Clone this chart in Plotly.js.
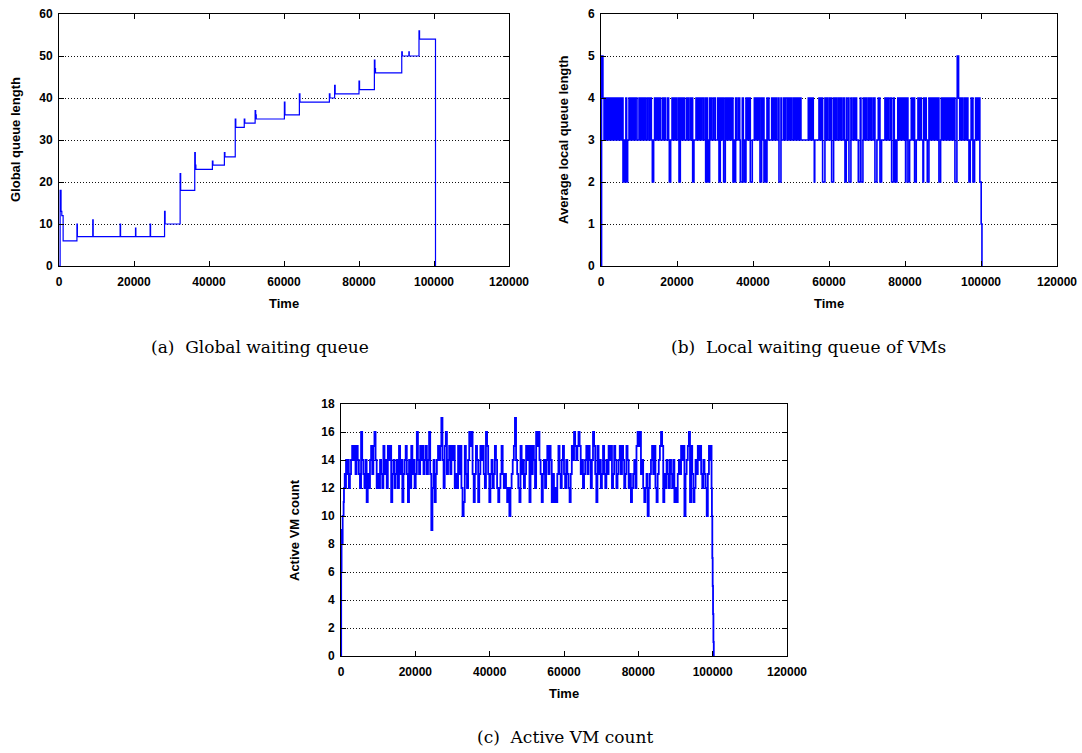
<!DOCTYPE html>
<html>
<head>
<meta charset="utf-8">
<script src="https://cdn.plot.ly/plotly-3.0.1.min.js"></script>
<style>
  html, body { margin: 0; padding: 0; background: #fff; }
  #chart { width: 1082px; height: 753px; }
</style>
</head>
<body>
<div id="chart"></div>
<script>
// (a) Global waiting queue length: step changes over simulated time
const globalT = [0, 300, 550, 750, 1100, 4780, 4900, 9000, 9120, 16300,
                 16420, 20400, 20500, 24300, 24420, 28150, 28300, 32300, 32450, 36200,
                 36350, 36500, 40900, 41050, 44100, 44250, 47000, 47150, 49400, 49550,
                 52300, 52450, 52600, 60100, 60250, 64100, 64250, 72100, 72250, 73500,
                 73650, 80000, 80150, 84100, 84250, 84400, 91400, 91550, 93300, 93400,
                 96000, 96150, 100400];
const globalQ = [0, 18, 13, 12, 6, 10, 7, 11, 7, 10,
                 7, 9, 7, 10, 7, 13, 10, 22, 18, 27,
                 24, 23, 25, 24, 27, 26, 35, 33, 35, 34,
                 37, 36, 35, 39, 36, 41, 39, 41, 40, 43,
                 41, 44, 42, 49, 47, 46, 51, 50, 51, 50,
                 56, 54, 0];

// (b) Average local queue length of the VMs
const localT = [0, 150, 500, 800, 1050, 1300, 1500, 1600, 1850, 2190,
  2460, 2750, 3000, 3330, 3600, 3940, 4040, 4300, 4550, 4910,
  5090, 5350, 5600, 5790, 6050, 6300, 6550, 6750, 7010, 7370,
  7650, 7950, 8250, 8500, 8770, 9040, 9470, 10000, 10250, 10500,
  10780, 11060, 11300, 11550, 11840, 12280, 12710, 12990, 13250, 13510,
  13850, 14100, 14380, 14740, 15000, 15300, 15610, 16140, 16400, 16700,
  17010, 17550, 17800, 17980, 18330, 18690, 18950, 19250, 19500, 19750,
  19990, 20440, 20530, 20870, 21100, 21200, 21310, 21580, 21920, 22460,
  22750, 22900, 23060, 23510, 23800, 23950, 24120, 24460, 25000, 25250,
  25350, 25520, 25790, 26100, 26250, 26390, 26580, 27010, 27460, 27540,
  27880, 28000, 28160, 28580, 28900, 29050, 29200, 29650, 30080, 30700,
  31050, 31390, 31700, 32000, 32270, 32710, 33000, 33150, 33320, 33600,
  33900, 34200, 34500, 34600, 34730, 35050, 35200, 35430, 35780, 36230,
  36500, 36660, 37190, 37450, 37620, 37900, 38000, 38150, 38410, 38600,
  38900, 39150, 39290, 39810, 40350, 40650, 40800, 40950, 41230, 41550,
  41700, 41840, 42270, 42450, 42720, 42890, 43150, 43300, 43680, 43950,
  44050, 44200, 44910, 45200, 45500, 45800, 46000, 46210, 46670, 46840,
  47360, 47530, 48070, 48350, 48650, 49110, 49300, 49600, 49900, 50160,
  50610, 50900, 51200, 51480, 51750, 52050, 52350, 52620, 54550, 54850,
  55150, 55450, 55650, 55860, 56130, 56250, 57360, 57650, 57950, 58320,
  58930, 59250, 59400, 59630, 60080, 60400, 60550, 60690, 61210, 61500,
  61750, 62000, 62440, 62750, 63050, 63310, 63760, 64000, 64200, 64540,
  64630, 65070, 65250, 65770, 65940, 66390, 66700, 67000, 67260, 67710,
  68230, 68410, 68930, 69020, 69300, 69600, 69890, 70340, 70650, 70950,
  71200, 71650, 71900, 71950, 72090, 72610, 72970, 73200, 73300, 73410,
  73840, 74720, 75000, 75300, 75590, 76040, 76300, 76380, 76480, 77000,
  77180, 77500, 77530, 77880, 78100, 78400, 78700, 79000, 79300, 79600,
  79900, 80150, 80250, 80520, 80770, 81210, 81650, 81950, 82260, 82520,
  82960, 83410, 83700, 84000, 84280, 84720, 84890, 85200, 85400, 85590,
  85860, 86300, 86600, 86750, 86910, 87180, 87500, 87650, 87790, 88060,
  88350, 88650, 88930, 89370, 89550, 89850, 90150, 90420, 90690, 91000,
  91150, 91290, 91560, 91850, 92150, 92430, 92620, 92900, 93000, 93140,
  93660, 93750, 94100, 94400, 94700, 95000, 95100, 95240, 95690, 96000,
  96300, 96550, 96830, 97170, 97400, 97650, 97750, 97880, 98310, 98580,
  98850, 99150, 99400, 99500, 99700, 100050, 100250];
const localQ = [0, 5, 4, 3, 4, 3, 4, 3, 4, 3,
  4, 3, 4, 3, 4, 3, 4, 3, 4, 3,
  4, 3, 4, 2, 3, 2, 4, 2, 3, 4,
  3, 4, 3, 4, 3, 4, 3, 4, 3, 4,
  3, 4, 3, 4, 3, 4, 3, 4, 3, 2,
  3, 4, 3, 4, 3, 4, 3, 4, 3, 4,
  3, 4, 3, 2, 3, 4, 3, 4, 3, 4,
  3, 4, 2, 4, 3, 4, 3, 4, 3, 4,
  3, 4, 3, 4, 3, 4, 2, 3, 4, 3,
  4, 3, 4, 3, 4, 3, 4, 3, 4, 2,
  4, 3, 2, 4, 3, 4, 3, 4, 3, 4,
  2, 4, 3, 4, 2, 4, 3, 4, 3, 4,
  3, 4, 3, 4, 2, 3, 2, 4, 3, 4,
  3, 2, 4, 3, 2, 3, 2, 4, 3, 4,
  3, 4, 2, 3, 4, 3, 4, 3, 4, 3,
  4, 2, 4, 3, 4, 2, 3, 2, 4, 3,
  4, 3, 4, 3, 4, 3, 4, 3, 4, 2,
  4, 3, 4, 3, 4, 3, 4, 3, 4, 3,
  4, 3, 4, 3, 4, 3, 4, 3, 4, 3,
  4, 3, 4, 3, 2, 3, 4, 3, 4, 2,
  4, 3, 4, 3, 4, 3, 4, 2, 4, 3,
  4, 3, 4, 3, 4, 3, 4, 3, 2, 4,
  3, 4, 2, 4, 3, 4, 3, 4, 3, 2,
  4, 2, 3, 4, 3, 4, 3, 4, 3, 4,
  3, 4, 3, 4, 2, 3, 4, 3, 4, 2,
  3, 4, 3, 4, 3, 4, 3, 4, 2, 4,
  2, 3, 2, 3, 4, 3, 4, 3, 4, 3,
  4, 2, 3, 4, 2, 3, 4, 3, 4, 2,
  3, 4, 3, 4, 3, 2, 4, 3, 4, 3,
  2, 4, 3, 4, 3, 4, 3, 4, 3, 4,
  3, 4, 2, 3, 4, 3, 4, 3, 4, 3,
  4, 3, 4, 3, 4, 3, 4, 3, 4, 2,
  4, 5, 4, 3, 4, 3, 4, 3, 4, 3,
  4, 3, 2, 3, 4, 3, 4, 2, 3, 4,
  3, 4, 3, 4, 2, 1, 0];

// (c) Active VM count: start-up ramp, sampled run, shutdown
const vmRiseT = [0, 50, 150, 350, 450, 700, 800, 1000, 1150, 1350];
const vmRiseV = [0, 6, 9, 8, 10, 11, 12, 13, 12, 14];
const vmStart = 1500;   // first regular sample
const vmStep = 300;     // sampling interval
const vmCount = [
  13, 14, 12, 13, 14, 15, 14, 15, 13, 15,
  14, 13, 12, 16, 14, 13, 12, 14, 11, 13,
  12, 14, 15, 13, 15, 16, 14, 12, 13, 12,
  14, 13, 12, 15, 13, 14, 12, 15, 14, 15,
  11, 13, 14, 12, 13, 14, 12, 15, 13, 14,
  11, 13, 14, 15, 13, 11, 14, 12, 15, 13,
  14, 12, 13, 16, 14, 13, 15, 14, 15, 13,
  14, 15, 13, 14, 16, 13, 9, 12, 14, 11,
  13, 14, 15, 14, 15, 17, 14, 12, 15, 16,
  13, 14, 15, 13, 15, 14, 15, 12, 13, 12,
  15, 13, 15, 12, 10, 11, 15, 13, 12, 14,
  16, 15, 16, 13, 11, 13, 15, 14, 11, 13,
  15, 14, 15, 13, 12, 16, 15, 13, 11, 13,
  14, 12, 13, 15, 14, 12, 11, 12, 13, 15,
  13, 12, 13, 12, 11, 12, 10, 12, 13, 14,
  15, 17, 14, 13, 12, 11, 15, 13, 14, 12,
  13, 15, 14, 15, 11, 15, 13, 15, 14, 12,
  16, 15, 16, 14, 13, 11, 13, 14, 12, 14,
  15, 13, 15, 14, 11, 13, 11, 12, 11, 13,
  15, 13, 12, 14, 15, 13, 12, 14, 13, 12,
  11, 13, 15, 14, 16, 15, 14, 15, 16, 15,
  13, 14, 12, 13, 14, 15, 13, 15, 14, 12,
  14, 16, 15, 13, 11, 15, 13, 14, 12, 13,
  15, 13, 12, 14, 13, 15, 14, 15, 12, 13,
  15, 14, 12, 13, 14, 15, 13, 15, 14, 12,
  13, 15, 14, 12, 13, 11, 12, 13, 14, 12,
  15, 16, 15, 16, 13, 14, 12, 11, 12, 13,
  10, 12, 13, 14, 15, 13, 15, 12, 11, 13,
  14, 15, 16, 15, 11, 13, 12, 14, 13, 12,
  14, 13, 12, 14, 11, 12, 11, 13, 14, 13,
  15, 14, 15, 10, 13, 14, 15, 16, 11, 15,
  13, 11, 12, 14, 13, 15, 14, 15, 13, 12,
  14, 13, 12, 10, 13, 15, 14, 15];
const vmFallT = [99700, 99800, 99900, 100000, 100100, 100200, 100300];
const vmFallV = [12, 10, 7, 5, 3, 1, 0];

// Axis ticks
const timeTicks = [0, 20000, 40000, 60000, 80000, 100000, 120000];
const globalTicks = [0, 10, 20, 30, 40, 50, 60];
const localTicks = [0, 1, 2, 3, 4, 5, 6];
const vmTicks = [0, 2, 4, 6, 8, 10, 12, 14, 16, 18];

// Text
const yTitles = ['Global queue length', 'Average local queue length', 'Active VM count'];
const xTitle = 'Time';
const captions = ['(a)\u00a0\u00a0Global waiting queue', '(b)\u00a0\u00a0Local waiting queue of VMs', '(c)\u00a0\u00a0Active VM count'];

// ---- build ----
const W = 1082, H = 753;
const vmT = vmRiseT.slice(), vmV = vmRiseV.slice();
vmCount.forEach((v, i) => { vmT.push(vmStart + i * vmStep); vmV.push(v); });
vmFallT.forEach((t, i) => { vmT.push(t); vmV.push(vmFallV[i]); });

const blue = '#0000ff';
const traces = [
  {x: globalT, y: globalQ, xaxis: 'x', yaxis: 'y', type: 'scatter', mode: 'lines',
   line: {color: blue, width: 1.2, shape: 'hv'}, hoverinfo: 'skip'},
  {x: localT, y: localQ, xaxis: 'x2', yaxis: 'y2', type: 'scatter', mode: 'lines',
   line: {color: blue, width: 1.6, shape: 'hv'}, hoverinfo: 'skip'},
  {x: vmT, y: vmV, xaxis: 'x3', yaxis: 'y3', type: 'scatter', mode: 'lines',
   line: {color: blue, width: 1.8, shape: 'hv'}, hoverinfo: 'skip'}
];

const tickFont = {family: 'Liberation Sans, Arial, sans-serif', size: 12, color: '#000', weight: 'bold'};

// pixel box -> paper domain
const dx = (l, r) => [l / W, r / W];
const dy = (t, b) => [1 - b / H, 1 - t / H];

function xAxis(domain, anchor) {
  return {domain, anchor, range: [0, 120000], tickvals: timeTicks, ticktext: timeTicks.map(String),
    showline: true, linecolor: '#000', linewidth: 1, mirror: 'ticks',
    ticks: 'inside', ticklen: 5, tickcolor: '#000', tickwidth: 1, ticklabelstandoff: 5,
    showgrid: false, zeroline: false, tickfont: tickFont, fixedrange: true};
}
function yAxis(domain, anchor, ticks) {
  return {domain, anchor, range: [ticks[0], ticks[ticks.length - 1]], tickvals: ticks, ticktext: ticks.map(String),
    showline: true, linecolor: '#000', linewidth: 1, mirror: 'ticks',
    ticks: 'inside', ticklen: 5, tickcolor: '#000', tickwidth: 1, ticklabelstandoff: 3,
    showgrid: true, gridcolor: '#111', gridwidth: 1, griddash: '1px,2px',
    zeroline: false, tickfont: tickFont, fixedrange: true};
}

const boxA = {l: 59, r: 509, t: 14, b: 266};
const boxB = {l: 601, r: 1057, t: 14, b: 266};
const boxC = {l: 341, r: 787, t: 404, b: 656};

const titleFont = {family: 'Liberation Sans, Arial, sans-serif', size: 13, color: '#000', weight: 'bold'};
const capFont = {family: 'DejaVu Serif, Liberation Serif, serif', size: 17, color: '#000'};

function ann(text, px, py, font, angle) {
  return {text, x: px / W, y: 1 - py / H, xref: 'paper', yref: 'paper',
    xanchor: 'center', yanchor: 'middle', showarrow: false, font, textangle: angle || 0};
}

const annotations = [
  ann(yTitles[0], 15, (boxA.t + boxA.b) / 2, titleFont, -90),
  ann(yTitles[1], 563, (boxB.t + boxB.b) / 2, titleFont, -90),
  ann(yTitles[2], 294, (boxC.t + boxC.b) / 2, titleFont, -90),
  ann(xTitle, (boxA.l + boxA.r) / 2, 303, titleFont),
  ann(xTitle, (boxB.l + boxB.r) / 2, 303, titleFont),
  ann(xTitle, (boxC.l + boxC.r) / 2, 693, titleFont),
  ann(captions[0], 260, 347, capFont),
  ann(captions[1], 808, 347, capFont),
  ann(captions[2], 565, 737, capFont)
];

const layout = {
  width: W, height: H, margin: {l: 0, r: 0, t: 0, b: 0},
  paper_bgcolor: '#fff', plot_bgcolor: '#fff', showlegend: false,
  xaxis: xAxis(dx(boxA.l, boxA.r), 'y'),
  yaxis: yAxis(dy(boxA.t, boxA.b), 'x', globalTicks),
  xaxis2: xAxis(dx(boxB.l, boxB.r), 'y2'),
  yaxis2: yAxis(dy(boxB.t, boxB.b), 'x2', localTicks),
  xaxis3: xAxis(dx(boxC.l, boxC.r), 'y3'),
  yaxis3: yAxis(dy(boxC.t, boxC.b), 'x3', vmTicks),
  annotations
};

Plotly.newPlot('chart', traces, layout, {staticPlot: true, displayModeBar: false});
</script>
</body>
</html>
